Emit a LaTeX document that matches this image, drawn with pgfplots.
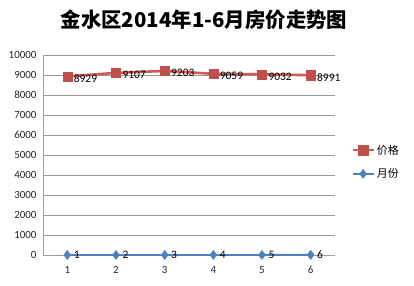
\documentclass[border=0pt]{standalone}
\usepackage{pgfplots}
\pgfplotsset{compat=1.18}
\usepackage{fontspec}
\setmainfont{Carlito}
\newfontfamily\cjk{Noto Sans CJK SC}
\definecolor{pricered}{HTML}{C0504D}
\definecolor{pricelinered}{HTML}{CD5B57}
\definecolor{monthblue}{HTML}{4F81BD}
\begin{document}
\begin{tikzpicture}[x=1bp,y=1bp]
\useasboundingbox (0,0) rectangle (414,286);
\node[font=\cjk\bfseries\fontsize{20.5}{24}\selectfont] at (204,266) {金水区2014年1-6月房价走势图};
\begin{axis}[
  at={(43bp,31bp)}, anchor=south west,
  scale only axis, width=292bp, height=200bp,
  xmin=0.5, xmax=6.5, ymin=0, ymax=10000,
  xtick={1,2,3,4,5,6},
  ytick={0,1000,...,10000},
  /pgf/number format/assume math mode=true,
  /pgf/number format/fixed,
  /pgf/number format/1000 sep={},
  scaled y ticks=false,
  tick label style={font=\fontsize{11}{12}\selectfont, text=black!85},
  major tick length=0pt,
  axis x line=bottom, axis y line=left,
  axis line style={gray!75, line width=0.8pt, -},
  ymajorgrids, grid style={black!40, line width=0.9pt},
  xticklabel style={yshift=-8bp},
  yticklabel style={xshift=-3bp},
  legend style={at={(1.045,0.465)}, anchor=west, draw=none, fill=none,
    font=\cjk\fontsize{11}{12}\selectfont, row sep=9bp},
  legend cell align=left,
  legend image code/.code={
    \draw[mark repeat=2,mark phase=2] plot coordinates {(0bp,0bp) (10.5bp,0bp) (21bp,0bp)};
  },
  clip=false,
]
\addplot[color=pricelinered, line width=2.6pt, mark=square*, mark size=4.6bp,
  mark options={fill=pricered, draw=pricered, line width=0.4pt},
  nodes near coords, point meta=explicit symbolic,
  every node near coord/.append style={anchor=west, xshift=3bp, yshift=-2bp,
    font=\fontsize{11.5}{12}\selectfont, text=black}]
 coordinates {(1,8929)[8929] (2,9107)[9107] (3,9203)[9203] (4,9059)[9059] (5,9032)[9032] (6,8991)[8991]};
\addlegendentry{价格}
\addplot[color=monthblue, line width=1.8pt, mark=diamond*, mark size=4.6bp,
  mark options={fill=monthblue, draw=monthblue, line width=0.4pt},
  nodes near coords, point meta=explicit symbolic,
  every node near coord/.append style={anchor=west, xshift=3bp, yshift=0bp,
    font=\fontsize{11.5}{12}\selectfont, text=black}]
 coordinates {(1,1)[1] (2,2)[2] (3,3)[3] (4,4)[4] (5,5)[5] (6,6)[6]};
\addlegendentry{月份}
\end{axis}
\end{tikzpicture}
\end{document}
